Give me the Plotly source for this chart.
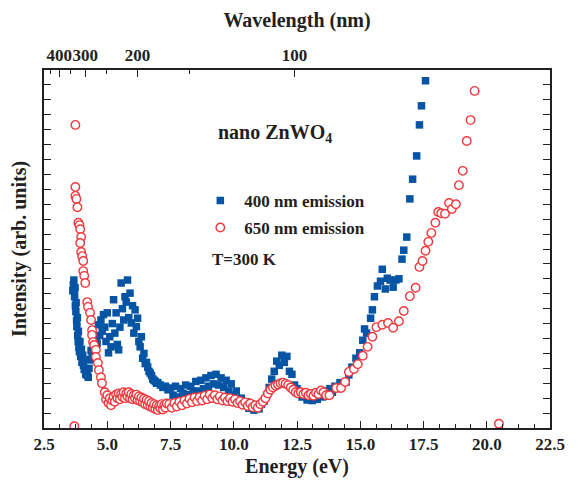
import plotly.graph_objects as go

# ---------------- data ----------------
blue_energy = [
    3.64, 3.66, 3.68, 3.70, 3.71, 3.73, 3.74, 3.76, 3.77, 3.79, 3.80, 3.82, 3.83, 3.85, 3.86,
    3.88, 3.90, 3.92, 3.95, 3.98, 4.00, 4.03, 4.06, 4.09, 4.12, 4.15, 4.18, 4.21, 4.25, 4.28,
    4.32, 4.36, 4.40, 4.45, 4.50, 4.55, 4.60, 4.65, 4.70, 4.75, 4.80, 4.85, 4.90, 4.95, 5.00,
    5.05, 5.10, 5.15, 5.20, 5.25, 5.30, 5.35, 5.40, 5.45, 5.50, 5.55, 5.60, 5.65, 5.70, 5.75,
    5.80, 5.85, 5.90, 5.95, 6.00, 6.05, 6.10, 6.15, 6.20, 6.25, 6.30, 6.35, 6.40, 6.45, 6.50,
    6.55, 6.60, 6.65, 6.70, 6.75, 6.80, 6.85, 6.90, 6.95, 7.00, 7.10, 7.20, 7.30, 7.40, 7.50,
    7.6, 7.7, 7.8, 7.9, 8.0, 8.1, 8.2, 8.3, 8.4, 8.5, 8.6, 8.7, 8.8, 8.9, 9.0, 9.1, 9.2, 9.3,
    9.4, 9.5, 9.6, 9.7, 9.8, 9.9, 10.0, 10.1, 10.2, 10.3, 10.4, 10.5, 10.6, 10.7, 10.8, 10.9,
    11.0, 11.1, 11.2, 11.3, 11.4, 11.5, 11.6, 11.7, 11.8, 11.9, 12.0, 12.1, 12.2, 12.3, 12.4,
    12.5, 12.6, 12.7, 12.8, 12.9, 13.0, 13.1, 13.2, 13.3, 13.4, 13.5, 13.6, 13.7, 13.8, 13.9,
    14.0, 14.1, 14.2,
    14.44, 14.55, 14.67, 14.83, 14.98, 15.10, 15.17, 15.25, 15.41, 15.48, 15.56, 15.68, 15.80,
    15.87, 15.99, 16.07, 16.18, 16.30, 16.41, 16.53, 16.65, 16.72, 16.84, 16.96, 17.07, 17.23,
    17.34, 17.42, 17.58,
]
blue_intensity = [
    2.30, 2.40, 2.48, 2.30, 2.20, 2.35, 2.05, 1.95, 2.10, 1.80, 1.70, 1.85, 1.55, 1.45, 1.62,
    1.35, 1.28, 1.45, 1.20, 1.32, 1.10, 1.22, 1.05, 0.98, 1.15, 0.90, 0.95, 0.88, 0.85, 1.00,
    1.14, 1.30, 1.22, 1.45, 1.35, 1.53, 1.42, 1.73, 1.55, 1.81, 1.62, 1.90, 1.69, 1.45, 1.93,
    1.26, 1.53, 1.36, 1.75, 2.15, 1.59, 1.93, 1.40, 1.31, 1.69, 2.43, 2.00, 1.81, 2.20, 2.11,
    2.48, 1.85, 2.26, 1.76, 2.05, 1.59, 1.98, 1.70, 1.84, 1.45, 1.36, 1.53, 1.17, 1.25, 1.08,
    1.10, 1.02, 0.95, 0.92, 0.88, 0.82, 0.80, 0.78, 0.75, 0.76, 0.72, 0.68, 0.70, 0.64, 0.67,
    0.55, 0.70, 0.52, 0.66, 0.58, 0.72, 0.56, 0.70, 0.62, 0.78, 0.62, 0.80, 0.66, 0.84, 0.70,
    0.88, 0.74, 0.90, 0.72, 0.84, 0.68, 0.80, 0.62, 0.74, 0.55, 0.62, 0.45, 0.50, 0.38, 0.44,
    0.33, 0.40, 0.30, 0.38, 0.32, 0.40, 0.45, 0.55, 0.68, 0.82, 0.95, 1.12, 1.05, 1.22, 1.10,
    1.20, 0.95, 0.90, 0.72, 0.66, 0.58, 0.52, 0.56, 0.47, 0.52, 0.46, 0.54, 0.48, 0.58, 0.52,
    0.62, 0.56, 0.66, 0.60, 0.70, 0.66, 0.76,
    0.77, 0.89, 1.02, 1.17, 1.26, 1.47, 1.66, 1.59, 1.84, 1.98, 2.20, 2.38, 2.46,
    2.66, 2.33, 2.51, 2.48, 2.36, 2.48, 2.50, 2.83, 2.98, 3.20, 3.84, 4.17, 4.56,
    5.08, 5.40, 5.82,
]

red_energy = [
    3.70,
    3.74, 3.74, 3.74, 3.78, 3.82, 3.86, 3.90, 3.93, 3.97, 3.93, 3.97, 4.01, 4.05, 4.05, 4.09,
    4.13, 4.21, 4.24, 4.32, 4.36, 4.40, 4.40, 4.44, 4.48, 4.55, 4.55, 4.63, 4.67, 4.75, 4.79,
    4.90, 4.95, 5.00, 5.05, 5.10, 5.15, 5.20, 5.25, 5.30, 5.35, 5.40, 5.45, 5.50, 5.55, 5.60,
    5.65, 5.70, 5.75, 5.80, 5.85, 5.90, 5.95, 6.00, 6.05, 6.10, 6.15, 6.20, 6.25, 6.30, 6.35,
    6.40, 6.45, 6.50, 6.55, 6.60, 6.65, 6.70, 6.75, 6.80, 6.85, 6.90, 6.95, 7.00, 7.05, 7.10,
    7.15, 7.20, 7.25, 7.30, 7.35,
    7.45, 7.55, 7.65, 7.75, 7.85, 7.95, 8.05, 8.15, 8.25, 8.35, 8.45, 8.55, 8.65, 8.75, 8.85,
    8.95, 9.05, 9.15, 9.25, 9.35, 9.45, 9.55, 9.65, 9.75, 9.85, 9.95, 10.05, 10.15, 10.25,
    10.35, 10.45, 10.55, 10.65, 10.75, 10.85, 10.95, 11.05, 11.15, 11.25, 11.35, 11.45, 11.55,
    11.65, 11.75, 11.85, 11.95, 12.05, 12.15, 12.25, 12.35, 12.45, 12.55, 12.65, 12.75, 12.85,
    12.95, 13.05, 13.15, 13.25, 13.35, 13.45, 13.55, 13.65,
    13.78, 14.05, 14.24, 14.40, 14.55, 14.75, 14.90, 15.10, 15.29, 15.48, 15.64, 15.87, 16.10,
    16.30, 16.53, 16.72, 16.96, 17.19, 17.34, 17.46, 17.58, 17.69, 17.81, 17.97, 18.08, 18.20,
    18.35, 18.51, 18.62, 18.78, 18.90, 19.05, 19.21, 19.36, 19.52,
    20.48,
]
red_intensity = [
    0.03,
    5.08, 4.04, 3.89, 3.84, 3.70, 3.44, 3.40, 3.33, 3.20, 3.10, 2.95, 2.88, 2.80, 2.63, 2.55,
    2.43, 2.11, 2.03, 1.93, 1.81, 1.64, 1.56, 1.44, 1.39, 1.31, 1.19, 1.09, 0.97, 0.85, 0.75,
    0.60, 0.48, 0.55, 0.42, 0.50, 0.38, 0.46, 0.52, 0.44, 0.56, 0.50, 0.58, 0.48, 0.57, 0.52,
    0.60, 0.50, 0.58, 0.53, 0.60, 0.50, 0.57, 0.48, 0.55, 0.50, 0.56, 0.47, 0.53, 0.45, 0.51,
    0.43, 0.49, 0.40, 0.47, 0.38, 0.45, 0.36, 0.42, 0.34, 0.40, 0.32, 0.38, 0.30, 0.37, 0.33,
    0.40, 0.31, 0.38, 0.34, 0.41,
    0.40, 0.34, 0.42, 0.36, 0.44, 0.38, 0.46, 0.41, 0.49, 0.43, 0.51, 0.45, 0.52, 0.46, 0.54,
    0.48, 0.56, 0.50, 0.55, 0.48, 0.53, 0.46, 0.51, 0.45, 0.50, 0.44, 0.48, 0.42, 0.45,
    0.39, 0.43, 0.37, 0.41, 0.35, 0.38, 0.34, 0.40, 0.44, 0.50, 0.58, 0.64, 0.68,
    0.71, 0.73, 0.75, 0.76, 0.74, 0.72, 0.68, 0.64, 0.60, 0.58, 0.60, 0.57, 0.59,
    0.55, 0.57, 0.54, 0.59, 0.57, 0.63, 0.60, 0.55,
    0.55, 0.67, 0.67, 0.77, 0.94, 0.99, 1.07, 1.21, 1.36, 1.53, 1.69, 1.73, 1.76,
    1.68, 1.79, 1.96, 2.21, 2.35, 2.70, 2.80, 2.97, 3.12, 3.27, 3.44, 3.62, 3.60,
    3.59, 3.77, 3.67, 3.75, 4.07, 4.31, 4.81, 5.16, 5.65,
    0.07,
]

energy_ticks = [2.5, 5.0, 7.5, 10.0, 12.5, 15.0, 17.5, 20.0, 22.5]
wavelength_major = [400, 300, 200, 100]
wavelength_minor = [450, 350, 250, 150]
HC = 1239.84  # eV*nm

series_names = ["400 nm emission", "650 nm emission"]
sample_label = "nano ZnWO<sub>4</sub>"
temp_label = "T=300 K"

# ---------------- figure ----------------
BLUE = "#0654a4"
RED = "#ee3a3f"
INK = "#231f20"
FONT = "Liberation Serif"

fig = go.Figure()
fig.add_trace(go.Scatter(
    x=blue_energy, y=blue_intensity, mode="markers", name=series_names[0],
    marker=dict(symbol="square", size=7.5, color=BLUE, line=dict(width=0)),
    legend="legend",
))
fig.add_trace(go.Scatter(
    x=red_energy, y=red_intensity, mode="markers", name=series_names[1],
    marker=dict(symbol="circle", size=8.5, color="white", line=dict(width=1.4, color=RED)),
    legend="legend2",
))

axis_common = dict(showline=True, linecolor=INK, linewidth=2, showgrid=False, zeroline=False,
                   ticks="inside", tickcolor=INK, tickwidth=1.2)

fig.update_layout(
    width=577, height=486,
    margin=dict(l=44, r=17, t=70, b=58),
    paper_bgcolor="white", plot_bgcolor="white",
    font=dict(family=FONT, size=17, color=INK, weight="bold"),
    xaxis=dict(
        **axis_common, range=[2.5, 22.5], tickmode="array", tickvals=energy_ticks,
        ticktext=[f"{v:.1f}" for v in energy_ticks], ticklen=7, tickangle=0,
        minor=dict(ticks="inside", dtick=0.625, tick0=2.5, ticklen=4, tickcolor=INK, tickwidth=1.2),
        title=dict(text="Energy (eV)", font=dict(size=20), standoff=6),
        tickfont=dict(size=17),
    ),
    xaxis2=dict(
        **axis_common, overlaying="x", side="top", anchor="y", range=[2.5, 22.5],
        tickmode="array", tickvals=[HC / w for w in wavelength_major],
        ticktext=[str(w) for w in wavelength_major], ticklen=7, tickangle=0,
        minor=dict(ticks="inside", tickvals=[HC / w for w in wavelength_minor], ticklen=4,
                   tickcolor=INK, tickwidth=1.2),
        title=dict(text="Wavelength (nm)", font=dict(size=20), standoff=13),
        tickfont=dict(size=17),
    ),
    yaxis=dict(
        **axis_common, range=[0, 6], dtick=1, tick0=0, ticklen=7, showticklabels=False,
        mirror="allticks",
        minor=dict(ticks="inside", dtick=0.25, ticklen=4, tickcolor=INK, tickwidth=1.2),
        title=dict(text="Intensity (arb. units)", font=dict(size=20), standoff=10),
    ),
    legend=dict(x=0.301, y=0.634, xanchor="left", yanchor="middle", bgcolor="rgba(0,0,0,0)",
                font=dict(size=17), itemwidth=38),
    legend2=dict(x=0.301, y=0.559, xanchor="left", yanchor="middle", bgcolor="rgba(0,0,0,0)",
                 font=dict(size=17), itemwidth=38),
    showlegend=True,
)

# keep an (invisible) trace on the top axis so it is drawn
fig.add_trace(go.Scatter(x=[HC / w for w in wavelength_major], y=[None] * 4, xaxis="x2",
                         mode="markers", showlegend=False, hoverinfo="skip"))

fig.add_annotation(x=9.28, y=4.94, xref="x", yref="y", text=sample_label, showarrow=False,
                   xanchor="left", yanchor="middle", font=dict(size=20))
fig.add_annotation(x=9.05, y=2.83, xref="x", yref="y", text=temp_label, showarrow=False,
                   xanchor="left", yanchor="middle", font=dict(size=17))

fig.write_html("out.html")
